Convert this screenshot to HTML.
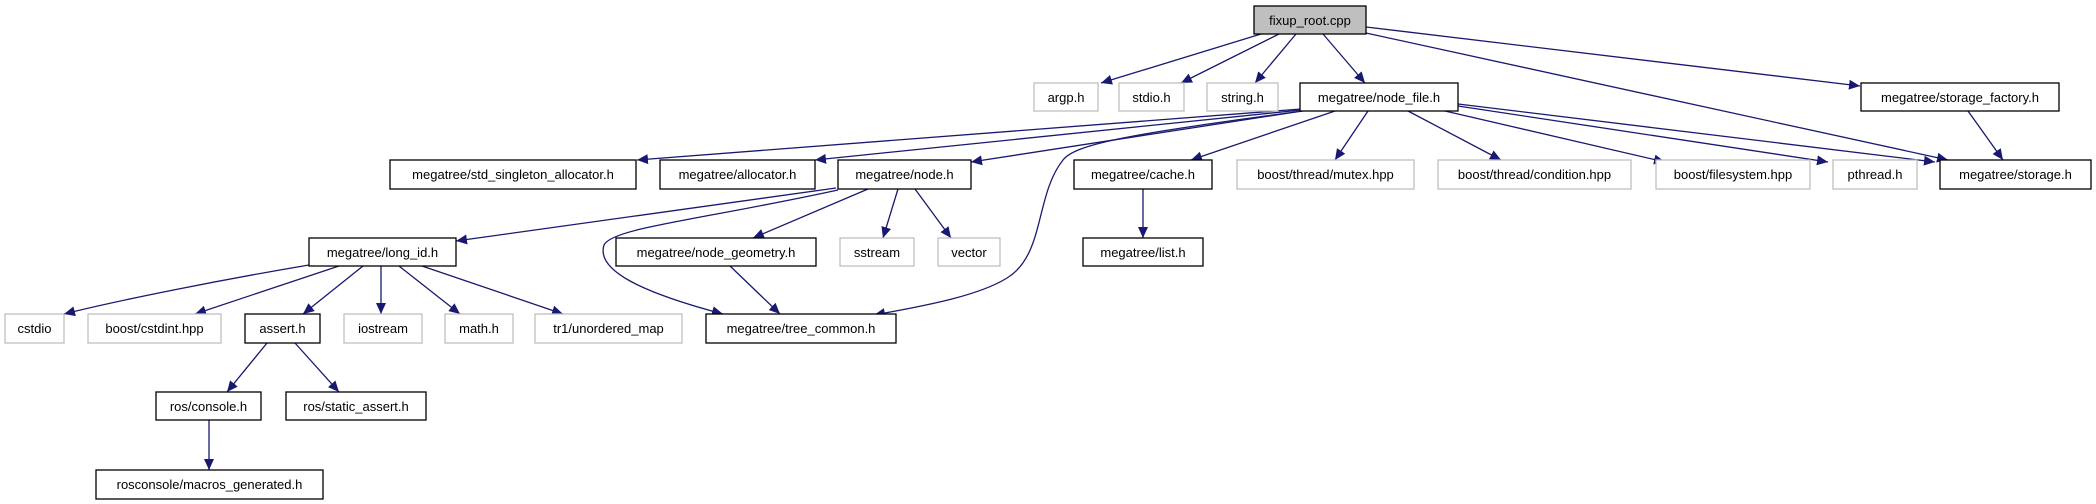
<!DOCTYPE html>
<html><head><meta charset="utf-8"><style>
html,body{margin:0;padding:0;background:#fff;}
svg{display:block;}
text{font-family:"Liberation Sans",Arial,sans-serif;font-size:13px;fill:#000;}
</style></head><body>
<svg width="2096" height="504" viewBox="0 0 2096 504" xmlns="http://www.w3.org/2000/svg">
<defs>
<marker id="a" markerWidth="12" markerHeight="10" refX="11" refY="5" orient="auto" markerUnits="userSpaceOnUse">
<path d="M0,0 L11,5 L0,10 Z" fill="#191970"/>
</marker>
</defs>
<g stroke="#191970" stroke-width="1.3" fill="none" marker-end="url(#a)">
<line x1="1261" y1="34" x2="1101" y2="83"/>
<line x1="1279" y1="34" x2="1181" y2="83"/>
<line x1="1296" y1="34" x2="1255" y2="83"/>
<line x1="1323" y1="34" x2="1365" y2="83"/>
<line x1="1366" y1="33" x2="1948" y2="160"/>
<line x1="1366" y1="27" x2="1860" y2="86"/>
<line x1="1968" y1="111" x2="2003" y2="160"/>
<line x1="1301" y1="109" x2="637" y2="160"/>
<line x1="1301" y1="110" x2="815" y2="160"/>
<line x1="1302" y1="111" x2="971" y2="162"/>
<path d="M1303,111 C1120,135 1075,145 1063,160 C1035,195 1045,255 1007,278 C980,295 930,305 874,315"/>
<line x1="1335" y1="111" x2="1191" y2="160"/>
<line x1="1368" y1="111" x2="1335" y2="160"/>
<line x1="1408" y1="111" x2="1501" y2="160"/>
<line x1="1445" y1="111" x2="1665" y2="162"/>
<line x1="1458" y1="106" x2="1828" y2="162"/>
<line x1="1458" y1="104" x2="1935" y2="162"/>
<line x1="1143" y1="189" x2="1143" y2="238"/>
<line x1="836" y1="188" x2="456" y2="241"/>
<path d="M838,190 C700,220 612,228 604,245 C596,270 640,292 723,314"/>
<line x1="868" y1="189" x2="753" y2="238"/>
<line x1="898" y1="189" x2="883" y2="238"/>
<line x1="915" y1="189" x2="951" y2="238"/>
<line x1="730" y1="266" x2="780" y2="314"/>
<path d="M309,265 C220,280 120,300 64,314"/>
<line x1="339" y1="266" x2="195" y2="314"/>
<line x1="363" y1="266" x2="303" y2="314"/>
<line x1="381" y1="266" x2="381" y2="314"/>
<line x1="399" y1="266" x2="460" y2="314"/>
<line x1="422" y1="266" x2="563" y2="314"/>
<line x1="267" y1="343" x2="227" y2="392"/>
<line x1="295" y1="343" x2="339" y2="392"/>
<line x1="209" y1="420" x2="209" y2="470"/>
</g>
<g stroke-width="1.3">
<rect x="1254" y="6" width="112" height="28" fill="#bfbfbf" stroke="#000"/>
<rect x="1034" y="83" width="64" height="28" fill="#fff" stroke="#bfbfbf"/>
<rect x="1119" y="83" width="65" height="28" fill="#fff" stroke="#bfbfbf"/>
<rect x="1207" y="83" width="71" height="28" fill="#fff" stroke="#bfbfbf"/>
<rect x="1300" y="83" width="158" height="28" fill="#fff" stroke="#000"/>
<rect x="1861" y="83" width="198" height="28" fill="#fff" stroke="#000"/>
<rect x="390" y="160" width="246" height="29" fill="#fff" stroke="#000"/>
<rect x="660" y="160" width="155" height="29" fill="#fff" stroke="#000"/>
<rect x="838" y="160" width="133" height="29" fill="#fff" stroke="#000"/>
<rect x="1074" y="160" width="138" height="29" fill="#fff" stroke="#000"/>
<rect x="1237" y="160" width="177" height="29" fill="#fff" stroke="#bfbfbf"/>
<rect x="1438" y="160" width="193" height="29" fill="#fff" stroke="#bfbfbf"/>
<rect x="1656" y="160" width="154" height="29" fill="#fff" stroke="#bfbfbf"/>
<rect x="1833" y="160" width="84" height="29" fill="#fff" stroke="#bfbfbf"/>
<rect x="1940" y="160" width="151" height="29" fill="#fff" stroke="#000"/>
<rect x="309" y="238" width="147" height="28" fill="#fff" stroke="#000"/>
<rect x="616" y="238" width="200" height="28" fill="#fff" stroke="#000"/>
<rect x="840" y="238" width="74" height="28" fill="#fff" stroke="#bfbfbf"/>
<rect x="938" y="238" width="62" height="28" fill="#fff" stroke="#bfbfbf"/>
<rect x="1083" y="238" width="120" height="28" fill="#fff" stroke="#000"/>
<rect x="5" y="314" width="59" height="29" fill="#fff" stroke="#bfbfbf"/>
<rect x="88" y="314" width="133" height="29" fill="#fff" stroke="#bfbfbf"/>
<rect x="245" y="314" width="75" height="29" fill="#fff" stroke="#000"/>
<rect x="344" y="314" width="78" height="29" fill="#fff" stroke="#bfbfbf"/>
<rect x="445" y="314" width="68" height="29" fill="#fff" stroke="#bfbfbf"/>
<rect x="535" y="314" width="147" height="29" fill="#fff" stroke="#bfbfbf"/>
<rect x="706" y="314" width="190" height="29" fill="#fff" stroke="#000"/>
<rect x="156" y="392" width="105" height="28" fill="#fff" stroke="#000"/>
<rect x="286" y="392" width="140" height="28" fill="#fff" stroke="#000"/>
<rect x="96" y="470" width="227" height="29" fill="#fff" stroke="#000"/>
</g>
<g text-anchor="middle">
<text x="1310" y="25">fixup_root.cpp</text>
<text x="1066" y="102">argp.h</text>
<text x="1151.5" y="102">stdio.h</text>
<text x="1242.5" y="102">string.h</text>
<text x="1379" y="102">megatree/node_file.h</text>
<text x="1960" y="102">megatree/storage_factory.h</text>
<text x="513" y="179">megatree/std_singleton_allocator.h</text>
<text x="737.5" y="179">megatree/allocator.h</text>
<text x="904.5" y="179">megatree/node.h</text>
<text x="1143" y="179">megatree/cache.h</text>
<text x="1325.5" y="179">boost/thread/mutex.hpp</text>
<text x="1534.5" y="179">boost/thread/condition.hpp</text>
<text x="1733" y="179">boost/filesystem.hpp</text>
<text x="1875" y="179">pthread.h</text>
<text x="2015.5" y="179">megatree/storage.h</text>
<text x="382.5" y="257">megatree/long_id.h</text>
<text x="716" y="257">megatree/node_geometry.h</text>
<text x="877" y="257">sstream</text>
<text x="969" y="257">vector</text>
<text x="1143" y="257">megatree/list.h</text>
<text x="34.5" y="333">cstdio</text>
<text x="154.5" y="333">boost/cstdint.hpp</text>
<text x="282.5" y="333">assert.h</text>
<text x="383" y="333">iostream</text>
<text x="479" y="333">math.h</text>
<text x="608.5" y="333">tr1/unordered_map</text>
<text x="801" y="333">megatree/tree_common.h</text>
<text x="208.5" y="411">ros/console.h</text>
<text x="356" y="411">ros/static_assert.h</text>
<text x="209.5" y="489">rosconsole/macros_generated.h</text>
</g>
</svg>
</body></html>
